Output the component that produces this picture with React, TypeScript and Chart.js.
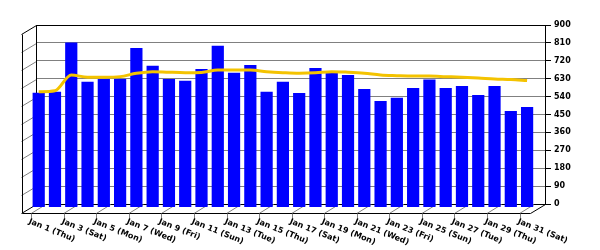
import { useEffect, useRef } from "react";
import { Chart, registerables } from "chart.js";

Chart.register(...registerables);

const categories = [
  "Jan 1 (Thu)", "Jan 2 (Fri)", "Jan 3 (Sat)", "Jan 4 (Sun)", "Jan 5 (Mon)", "Jan 6 (Tue)",
  "Jan 7 (Wed)", "Jan 8 (Thu)", "Jan 9 (Fri)", "Jan 10 (Sat)", "Jan 11 (Sun)", "Jan 12 (Mon)",
  "Jan 13 (Tue)", "Jan 14 (Wed)", "Jan 15 (Thu)", "Jan 16 (Fri)", "Jan 17 (Sat)", "Jan 18 (Sun)",
  "Jan 19 (Mon)", "Jan 20 (Tue)", "Jan 21 (Wed)", "Jan 22 (Thu)", "Jan 23 (Fri)", "Jan 24 (Sat)",
  "Jan 25 (Sun)", "Jan 26 (Mon)", "Jan 27 (Tue)", "Jan 28 (Wed)", "Jan 29 (Thu)", "Jan 30 (Fri)",
  "Jan 31 (Sat)",
];

const barValues = [
  577, 582, 829, 632, 646, 646, 802, 713, 646, 637, 696, 813, 678, 716, 582, 632,
  576, 701, 686, 666, 596, 535, 552, 601, 643, 601, 611, 566, 611, 485, 505,
];

const lineValues = [
  582, 587, 666, 655, 655, 658, 675, 683, 680, 678, 679, 691, 691, 691, 683, 678,
  675, 677, 683, 680, 675, 666, 663, 661, 661, 658, 655, 651, 646, 643, 638,
];

const yTickValues = [0, 90, 180, 270, 360, 450, 540, 630, 720, 810, 900];

const DX = 14.5; // 3D depth, horizontal
const DY = 9; // 3D depth, vertical
const BAR_DX = -7;
const BAR_DY = 3.5;
const FONT = "bold 8px 'DejaVu Sans'";

const frame3d = {
  id: "frame3d",
  beforeDatasetsDraw(chart: any) {
    const { ctx, chartArea: a, scales } = chart;
    const x = scales.x;
    const y = scales.y;
    const seg = (x1: number, y1: number, x2: number, y2: number) => {
      ctx.beginPath();
      ctx.moveTo(x1, y1);
      ctx.lineTo(x2, y2);
      ctx.stroke();
    };
    const L = Math.round(a.left) + 0.5;
    const R = Math.round(a.right) + 0.5;
    const T = Math.round(a.top) + 0.5;
    const B = Math.round(a.bottom) + 0.5;
    const FL = Math.round(a.left - DX) + 0.5;
    const FB = Math.round(a.bottom + DY) + 0.5;
    ctx.save();
    ctx.lineWidth = 1;
    // left wall grid lines
    ctx.strokeStyle = "#808080";
    yTickValues.forEach((v) => {
      if (v === 0 || v === 900) return;
      const py = Math.round(y.getPixelForValue(v)) + 0.5;
      seg(L, py, a.left - DX, py + DY);
    });
    // floor lines at labelled categories
    categories.forEach((_, i) => {
      if (i % 2) return;
      const px = x.getPixelForValue(i);
      seg(px, B, px - DX, FB);
    });
    // frame
    ctx.strokeStyle = "#000";
    seg(L, T, L, B);
    seg(L, T, a.left - DX, T + DY);
    seg(FL, T + DY, FL, FB);
    seg(L, B, a.left - DX, FB);
    seg(FL, FB, a.right - DX, FB);
    seg(R, B, a.right - DX, FB);
    // x ticks and labels
    ctx.strokeStyle = "#808080";
    ctx.fillStyle = "#000";
    ctx.font = FONT;
    ctx.textAlign = "left";
    ctx.textBaseline = "top";
    categories.forEach((label, i) => {
      if (i % 2) return;
      const fx = Math.round(x.getPixelForValue(i) - DX) + 0.5;
      seg(fx, FB, fx, FB + 5);
      ctx.save();
      ctx.translate(fx - 1, FB + 4);
      ctx.rotate((22 * Math.PI) / 180);
      ctx.fillText(label, 0, 0);
      ctx.restore();
    });
    ctx.restore();
    ctx.save();
    ctx.translate(BAR_DX, BAR_DY);
  },
  afterDatasetsDraw(chart: any) {
    chart.ctx.restore();
  },
};

export default function App() {
  const ref = useRef<HTMLCanvasElement | null>(null);
  useEffect(() => {
    document.body.style.margin = "0";
    if (!ref.current) return;
    const chart = new Chart(ref.current, {
      type: "bar",
      data: {
        datasets: [
          {
            type: "line",
            data: lineValues.map((v, i) => ({ x: i, y: v })),
            borderColor: "#f4c300",
            borderWidth: 3,
            pointRadius: 0,
            cubicInterpolationMode: "monotone",
            order: 1,
          } as any,
          {
            type: "bar",
            data: barValues.map((v, i) => ({ x: i, y: v })),
            backgroundColor: "#0000ff",
            borderWidth: 0,
            barPercentage: 0.75,
            categoryPercentage: 1,
            order: 2,
          } as any,
        ],
      },
      options: {
        animation: false,
        responsive: false,
        layout: { padding: { left: 36, top: 25, right: 0, bottom: 46 } },
        plugins: { legend: { display: false }, tooltip: { enabled: false } },
        scales: {
          x: {
            type: "linear",
            display: false,
            offset: false,
            min: -0.596,
            max: 30.67,
          },
          y: {
            position: "right",
            min: 0,
            max: 900,
            afterBuildTicks: (s: any) => {
              s.ticks = yTickValues.map((v) => ({ value: v }));
            },
            afterFit: (s: any) => {
              s.width = 55;
            },
            grid: {
              color: (c: any) =>
                c.tick && (c.tick.value === 0 || c.tick.value === 900) ? "#000" : "#808080",
              tickColor: "#000",
              tickLength: 6,
              drawTicks: true,
            },
            border: { display: true, color: "#000" },
            ticks: {
              color: "#000",
              padding: 3,
              font: { family: "'DejaVu Sans'", size: 8, weight: "bold" },
            },
          },
        },
      } as any,
      plugins: [frame3d],
    });
    return () => chart.destroy();
  }, []);
  return <canvas ref={ref} width={600} height={250} />;
}
